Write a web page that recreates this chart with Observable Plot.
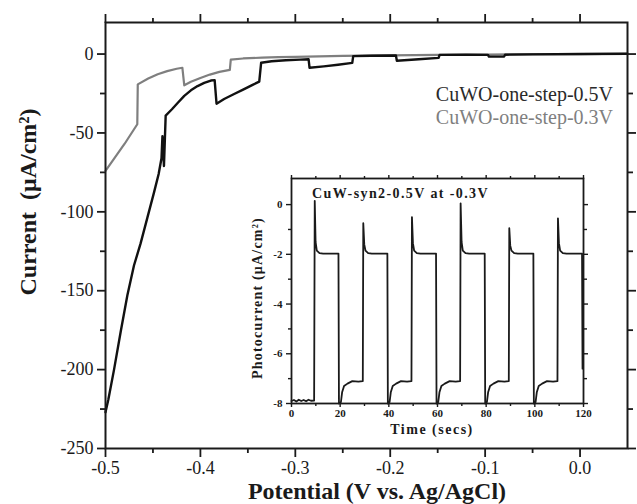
<!DOCTYPE html>
<html><head><meta charset="utf-8">
<script src="https://cdn.jsdelivr.net/npm/d3@7"></script>
<script src="https://cdn.jsdelivr.net/npm/@observablehq/plot@0.6"></script>
<style>
body{margin:0;background:#fff}
#chart{position:relative;width:637px;height:504px;background:#fff}
#chart svg{position:absolute}
#chart svg text{font-family:'Liberation Serif','Times New Roman',serif !important}
</style>
</head><body><div id="chart"></div>
<script>
// Main chart series: CuWO-one-step-0.5V (black)
const blackPotential = [-0.5,-0.497,-0.491,-0.484,-0.477,-0.470,-0.463,-0.456,-0.449,-0.444,-0.441,-0.440,-0.4384,-0.4366,-0.43,-0.424,-0.417,-0.41,-0.403,-0.396,-0.389,-0.385,-0.383,-0.375,-0.365,-0.355,-0.345,-0.338,-0.336,-0.325,-0.31,-0.295,-0.286,-0.285,-0.27,-0.255,-0.24,-0.239,-0.22,-0.194,-0.193,-0.17,-0.149,-0.148,-0.12,-0.097,-0.096,-0.08,-0.079,-0.05,0.0,0.05];
const blackCurrent   = [-227,-219,-200,-176,-153,-134,-120,-104,-88,-76,-66,-52,-71,-39,-35,-31,-26.5,-23,-20.3,-18.3,-16.8,-16.5,-31.5,-28.5,-25.5,-22.5,-19.5,-17.5,-5.5,-4.6,-3.9,-3.5,-3.3,-8.7,-7.8,-6.8,-5.6,-1.3,-1.1,-0.9,-4.2,-3.3,-2.4,-0.5,-0.4,-0.5,-1.6,-1.6,-0.4,-0.2,0,0.2];
// Main chart series: CuWO-one-step-0.3V (gray)
const grayPotential = [-0.5,-0.49,-0.48,-0.4665,-0.466,-0.455,-0.445,-0.435,-0.425,-0.419,-0.417,-0.41,-0.4,-0.39,-0.38,-0.369,-0.368,-0.355,-0.335,-0.318,-0.3,-0.25,-0.2,-0.15,-0.1,-0.05,0.0,0.05];
const grayCurrent   = [-74,-65.5,-57,-44.5,-19.2,-15.5,-12.8,-10.8,-9.3,-8.7,-19.8,-17.6,-15.2,-13,-11.3,-10,-3.5,-2.8,-2.3,-2.0,-1.8,-1.2,-0.8,-0.5,-0.3,-0.1,0,0.2];
const seriesNames = ["CuWO-one-step-0.5V","CuWO-one-step-0.3V"];
const seriesColors = ["#111111","#7f7f7f"];

const xMajorTicks = [-0.5,-0.4,-0.3,-0.2,-0.1,0.0];
const xMinorTicks = [-0.45,-0.35,-0.25,-0.15,-0.05];
const yMajorTicks = [-250,-200,-150,-100,-50,0];
const yMinorTicks = [-225,-175,-125,-75,-25];

// Inset: photocurrent vs time
const insetTime = [0,1,2,3,4,5,6,7,8,9.3,9.55,9.9,10.4,11.5,13,19.3,19.5,20.3,20.8,21.6,23,25,27.5,29.3,
  29.5,29.9,30.4,31.5,33,39.4,39.6,40.3,40.8,41.6,43,45,47.5,49.3,
  49.5,49.9,50.4,51.5,53,59.4,59.6,60.3,60.8,61.6,63,65,67.5,69.3,
  69.5,69.9,70.4,71.5,73,79.4,79.6,80.3,80.8,81.6,83,85,87.5,89.3,
  89.5,89.9,90.4,91.5,93,99.4,99.6,100.3,100.8,101.6,103,105,107.5,109.3,
  109.5,109.9,110.4,111.5,113,119.4,119.6];
const insetCurrent = [-7.9,-7.86,-7.92,-7.85,-7.9,-7.86,-7.91,-7.85,-7.89,-7.88,0.15,-1.5,-1.85,-1.95,-1.97,-1.97,-8.0,-7.95,-7.55,-7.3,-7.2,-7.1,-7.12,-7.1,
  -0.75,-1.6,-1.85,-1.95,-1.97,-1.97,-8.0,-7.95,-7.55,-7.3,-7.2,-7.1,-7.12,-7.1,
  -0.5,-1.55,-1.85,-1.95,-1.97,-1.97,-8.0,-7.95,-7.55,-7.3,-7.2,-7.1,-7.12,-7.1,
  0.05,-1.5,-1.85,-1.95,-1.97,-1.97,-8.0,-7.95,-7.55,-7.3,-7.2,-7.1,-7.12,-7.1,
  -0.95,-1.65,-1.85,-1.95,-1.97,-1.97,-8.0,-7.95,-7.55,-7.3,-7.2,-7.1,-7.12,-7.1,
  -0.55,-1.55,-1.85,-1.95,-1.97,-1.97,-6.6];
const insetXTicks = [0,20,40,60,80,100,120];
const insetXMinor = [10,30,50,70,90,110];
const insetYTicks = [0,-2,-4,-6,-8];
const insetYMinor = [-1,-3,-5,-7];

const blackData = blackPotential.map((v,i)=>({v, c: blackCurrent[i]}));
const grayData = grayPotential.map((v,i)=>({v, c: grayCurrent[i]}));
const insetData = insetTime.map((t,i)=>({t, c: insetCurrent[i]}));

const ink = "#1a1a1a";
const serif = "'Liberation Serif', 'Times New Roman', serif";
const ax = {fontFamily: serif, label: null};

const main = Plot.plot({
  width: 637, height: 504,
  marginLeft: 105, marginRight: 10, marginTop: 22, marginBottom: 56,
  style: {fontFamily: serif, background: "transparent", color: ink},
  x: {domain: [-0.5, 0.05], label: null},
  y: {domain: [-250, 20], label: null},
  marks: [
    Plot.axisX({...ax, ticks: xMajorTicks, tickSize: 9, tickPadding: 4, fontSize: 18, strokeWidth: 1.8, tickFormat: d => d.toFixed(1)}),
    Plot.axisX({...ax, ticks: xMinorTicks, tickSize: 5, strokeWidth: 1.8, tickFormat: () => ""}),
    Plot.axisX({...ax, anchor: "top", ticks: xMajorTicks, tickSize: 9, strokeWidth: 1.8, tickFormat: () => ""}),
    Plot.axisX({...ax, anchor: "top", ticks: xMinorTicks, tickSize: 5, strokeWidth: 1.8, tickFormat: () => ""}),
    Plot.axisY({...ax, ticks: yMajorTicks, tickSize: 8, tickPadding: 4, fontSize: 18, strokeWidth: 1.8, tickFormat: d => String(d)}),
    Plot.axisY({...ax, ticks: yMinorTicks, tickSize: 5, strokeWidth: 1.8, tickFormat: () => ""}),
    Plot.axisY({...ax, anchor: "right", ticks: yMajorTicks, tickSize: 8, strokeWidth: 1.8, tickFormat: () => ""}),
    Plot.axisY({...ax, anchor: "right", ticks: yMinorTicks, tickSize: 5, strokeWidth: 1.8, tickFormat: () => ""}),
    Plot.line(grayData, {x: "v", y: "c", stroke: seriesColors[1], strokeWidth: 2.2}),
    Plot.line(blackData, {x: "v", y: "c", stroke: seriesColors[0], strokeWidth: 2.4}),
    Plot.frame({stroke: ink, strokeWidth: 2})
  ]
});

const inset = Plot.plot({
  width: 366, height: 270,
  marginLeft: 61, marginRight: 13, marginTop: 8, marginBottom: 37,
  style: {fontFamily: serif, background: "transparent", color: ink},
  x: {domain: [0, 120], label: null},
  y: {domain: [-8, 1.05], label: null},
  marks: [
    Plot.axisX({...ax, ticks: insetXTicks, tickSize: 4, tickPadding: 2, fontSize: 11, fontWeight: "bold", strokeWidth: 1.4, tickFormat: d => String(d)}),
    Plot.axisX({...ax, ticks: insetXMinor, tickSize: 3, strokeWidth: 1.4, tickFormat: () => ""}),
    Plot.axisX({...ax, anchor: "top", ticks: insetXTicks, tickSize: 4, strokeWidth: 1.4, tickFormat: () => ""}),
    Plot.axisX({...ax, anchor: "top", ticks: insetXMinor, tickSize: 3, strokeWidth: 1.4, tickFormat: () => ""}),
    Plot.axisY({...ax, ticks: insetYTicks, tickSize: 5, tickPadding: 4, fontSize: 11, fontWeight: "bold", strokeWidth: 1.4, tickFormat: d => String(d)}),
    Plot.axisY({...ax, ticks: insetYMinor, tickSize: 3, strokeWidth: 1.4, tickFormat: () => ""}),
    Plot.axisY({...ax, anchor: "right", ticks: insetYTicks, tickSize: 4, strokeWidth: 1.4, tickFormat: () => ""}),
    Plot.axisY({...ax, anchor: "right", ticks: insetYMinor, tickSize: 3, strokeWidth: 1.4, tickFormat: () => ""}),
    Plot.line(insetData, {x: "t", y: "c", stroke: ink, strokeWidth: 1.8}),
    Plot.frame({stroke: ink, strokeWidth: 1.8})
  ]
});

const chart = document.getElementById("chart");
main.style.left = "0px"; main.style.top = "0px";
inset.style.left = "230px"; inset.style.top = "170px";
chart.appendChild(main);
chart.appendChild(inset);

// Main texts
const ms = d3.select(main);
ms.append("text").attr("x", 377).attr("y", 499).attr("text-anchor", "middle")
  .attr("font-size", 24).attr("font-weight", "bold").attr("fill", ink)
  .text("Potential (V vs. Ag/AgCl)");
ms.append("text").attr("transform", "translate(36,202) rotate(-90)").attr("text-anchor", "middle")
  .attr("font-size", 24).attr("font-weight", "bold").attr("fill", ink)
  .style("white-space", "pre")
  .text("Current  (\u03BCA/cm\u00B2)");
ms.append("text").attr("x", 613).attr("y", 101).attr("text-anchor", "end")
  .attr("font-size", 20).attr("fill", "#2a2a2a").text(seriesNames[0]);
ms.append("text").attr("x", 613).attr("y", 124).attr("text-anchor", "end")
  .attr("font-size", 20).attr("fill", seriesColors[1]).text(seriesNames[1]);

// Inset texts
const is = d3.select(inset);
is.append("text").attr("x", 82).attr("y", 28).attr("text-anchor", "start")
  .attr("font-size", 14).attr("font-weight", "bold").attr("fill", ink).attr("letter-spacing", 1.4)
  .text("CuW-syn2-0.5V at -0.3V");
is.append("text").attr("x", 202).attr("y", 264).attr("text-anchor", "middle")
  .attr("font-size", 14).attr("font-weight", "bold").attr("fill", ink).attr("letter-spacing", 1.5)
  .text("Time (secs)");
is.append("text").attr("transform", "translate(32,128) rotate(-90)").attr("text-anchor", "middle")
  .attr("font-size", 14).attr("font-weight", "bold").attr("fill", ink)
  .attr("letter-spacing", 1.2)
  .text("Photocurrent (\u03BCA/cm\u00B2)");

d3.selectAll("#chart text").style("font-family", serif, "important");
</script>
</body></html>
